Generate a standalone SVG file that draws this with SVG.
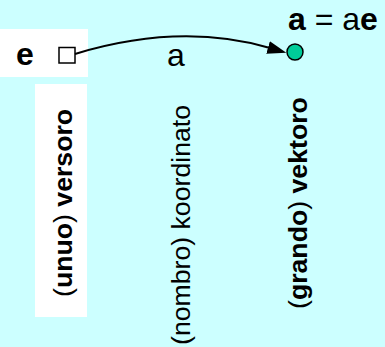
<svg xmlns="http://www.w3.org/2000/svg" width="385" height="347" viewBox="0 0 385 347">
  <style>
    .lbl { font-family: "Liberation Sans", Arial, sans-serif; fill: #000; }
    .big { font-size: 32px; }
    .vert { font-size: 26.67px; }
    .b { font-weight: bold; }
    .n { font-weight: normal; }
    .panel { fill: #ffffff; }
  </style>
  <defs>
    <marker id="arrowhead" markerUnits="userSpaceOnUse" markerWidth="22" markerHeight="16"
            refX="2" refY="8" orient="auto" viewBox="0 0 22 16">
      <path d="M0,1.5 L19,8 L0,14.5 z" fill="#000"/>
    </marker>
  </defs>

  <!-- background -->
  <rect x="0" y="0" width="385" height="347" fill="#ccffff"/>

  <!-- white panels behind the unit vector and its caption -->
  <rect class="panel" x="0" y="29" width="88" height="48"/>
  <rect class="panel" x="35" y="84" width="52" height="233"/>

  <!-- unit vector node -->
  <g id="unit-vector">
    <text class="lbl big b" x="16" y="65">e</text>
    <rect x="59" y="47.5" width="16" height="15.5" fill="#ffffff" stroke="#000" stroke-width="1.5"/>
  </g>

  <!-- vector node -->
  <g id="vector">
    <circle cx="295" cy="52" r="8" fill="#00cc99" stroke="#000" stroke-width="1.5"/>
    <text class="lbl big" x="288" y="30"><tspan class="b">a</tspan> = a<tspan class="b">e</tspan></text>
  </g>

  <!-- connectors -->
  <g id="connectors">
    <path d="M75,54 Q180,22 270,48" fill="none" stroke="#000" stroke-width="2" marker-end="url(#arrowhead)"/>
    <text class="lbl big" x="167" y="66">a</text>
  </g>

  <!-- vertical captions -->
  <g id="caption-unit">
    <text class="lbl vert b" transform="translate(71.5,297) rotate(-90)"><tspan class="n">(</tspan>unuo<tspan class="n">)</tspan> versoro</text>
  </g>
  <g id="caption-coordinate">
    <text class="lbl vert" transform="translate(189.5,345) rotate(-90)">(nombro) koordinato</text>
  </g>
  <g id="caption-vector">
    <text class="lbl vert b" transform="translate(306.5,309) rotate(-90)"><tspan class="n">(</tspan>grando<tspan class="n">)</tspan> vektoro</text>
  </g>
</svg>
